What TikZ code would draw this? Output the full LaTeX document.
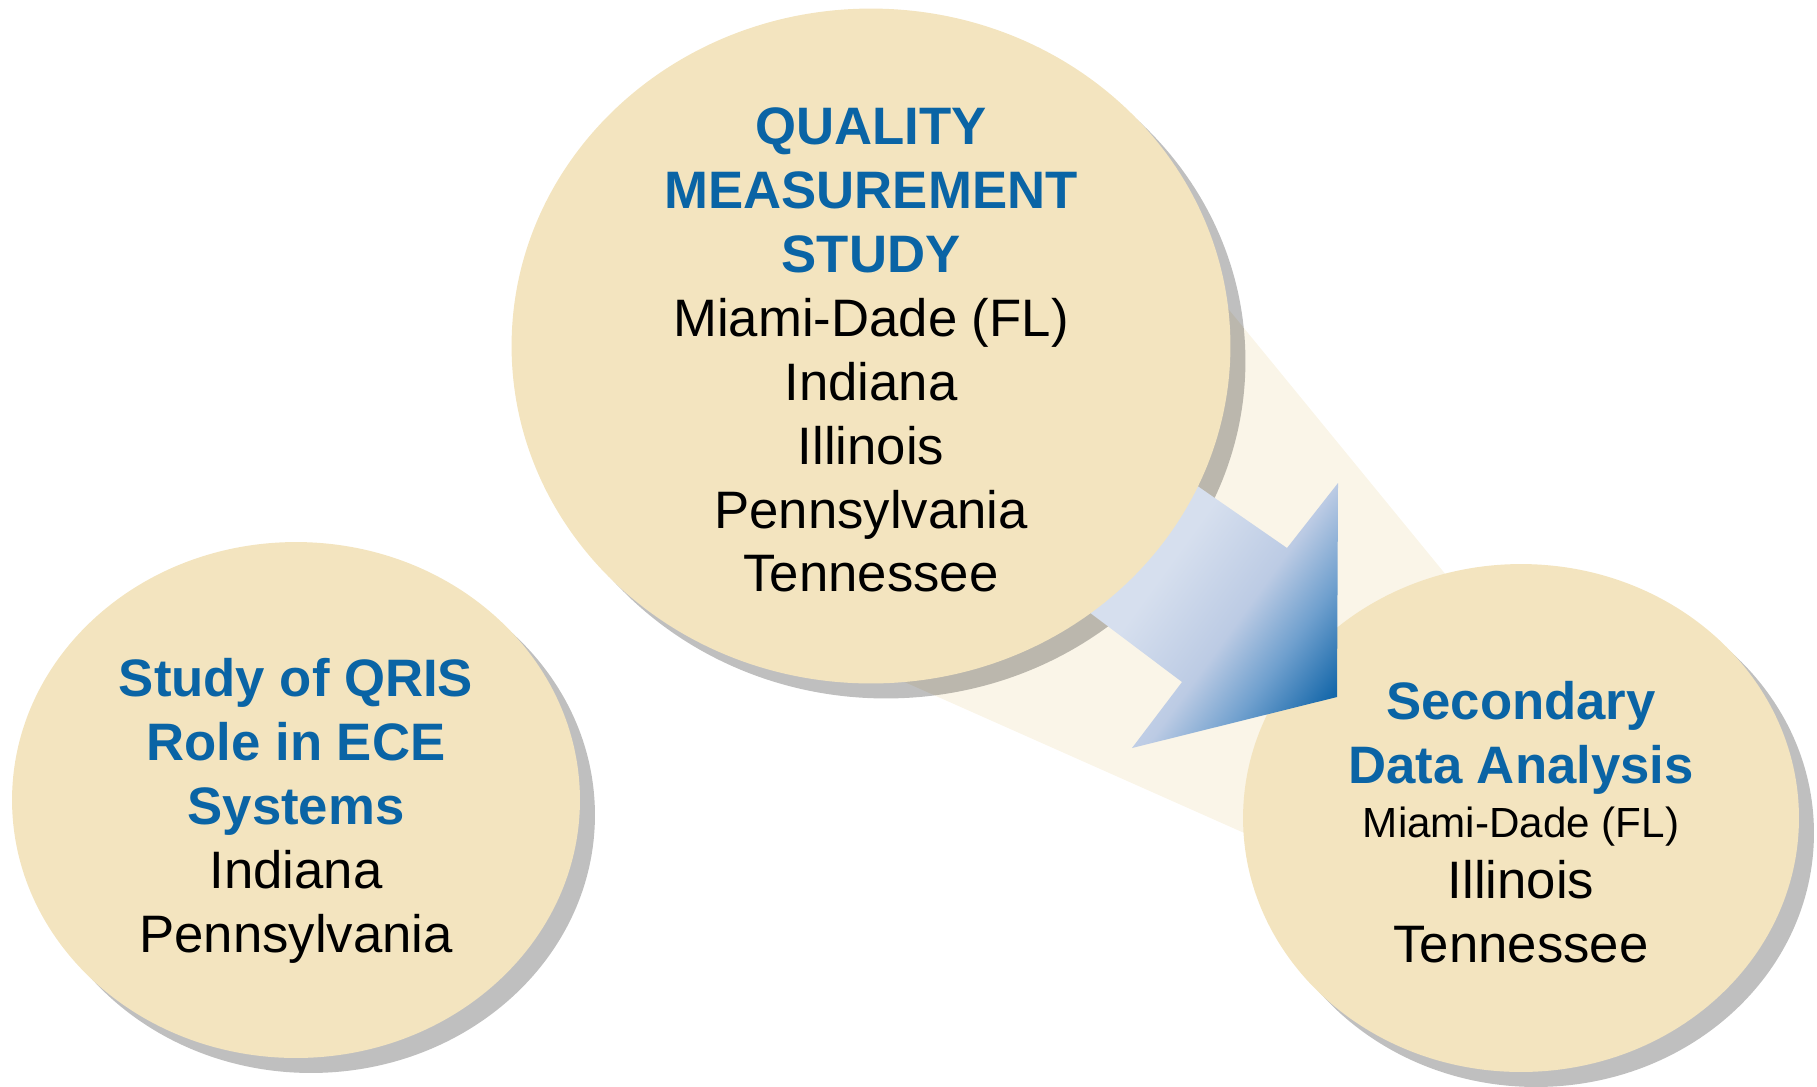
\documentclass[tikz,border=0pt]{standalone}
\usepackage{fontspec}
\setmainfont{Liberation Sans}
\usetikzlibrary{shapes.geometric,shadows}

\definecolor{disccream}{RGB}{243,228,191}
\definecolor{beamcream}{RGB}{250,245,232}
\definecolor{titleblue}{RGB}{10,100,165}
\definecolor{arrowlight}{RGB}{214,223,238}
\definecolor{arrowmid}{RGB}{188,203,228}
\definecolor{arrowblue}{RGB}{112,160,206}
\definecolor{arrowdark}{RGB}{22,104,170}

\pgfdeclareverticalshading{arrowfade}{100bp}{color(0bp)=(arrowdark); color(22bp)=(arrowdark); color(34bp)=(arrowblue); color(45bp)=(arrowmid); color(62bp)=(arrowlight); color(100bp)=(arrowlight)}

\newcommand{\qtitle}[1]{{\color{titleblue}\bfseries #1}}

\tikzset{
  disc/.style={ellipse, fill=disccream, inner sep=0pt},
  discshadow/.style={ellipse, fill=black, opacity=0.25, inner sep=0pt},
  shadowed/.style={drop shadow={shadow xshift=0.3cm, shadow yshift=-0.3cm, fill=black, opacity=0.25}},
  places/.style={align=center, font=\fontsize{30}{36.4}\selectfont}
}

\begin{document}
\begin{tikzpicture}[x=0.02cm, y=-0.02cm]
  \useasboundingbox (0,0) rectangle (1817,1086);

  % Beam
  \fill[beamcream] (1180,250) -- (1460,592) -- (1260,840) -- (900,680) -- cycle;

  % Discs below
  \node[disc, shadowed, minimum width=11.12cm, minimum height=10.16cm] (sda) at (1521,818) {};
  \node[disc, shadowed, minimum width=11.36cm, minimum height=10.32cm] (qris) at (296,800) {};
  \node[discshadow, minimum width=14.38cm, minimum height=13.5cm] (qmsshadow) at (886,361) {};

  % Arrow
  \shade[shading=arrowfade, shading angle=54]
    (1183,476) -- (1287,548) -- (1338,483) -- (1337,697) -- (1132,748) -- (1182,682) -- (1085,609) -- cycle;

  \node[disc, minimum width=14.38cm, minimum height=13.5cm] (qms) at (871,346) {};

  % Texts
  \node[places] (qmstext) at (871,350) {\qtitle{QUALITY}\\ \qtitle{MEASUREMENT}\\ \qtitle{STUDY}\\
    Miami-Dade (FL)\\ Indiana\\ Illinois\\ Pennsylvania\\ Tennessee};
  \node[places] (qristext) at (296,811) {\qtitle{Study of QRIS}\\ \qtitle{Role in ECE}\\ \qtitle{Systems}\\
    Indiana\\ Pennsylvania};
  \node[places] (sdatext) at (1521,822) {\qtitle{Secondary}\\ \qtitle{Data Analysis}\\[-5.5pt]
    {\fontsize{24}{29}\selectfont Miami-Dade (FL)}\\[-1.5pt] Illinois\\ Tennessee};
\end{tikzpicture}
\end{document}
